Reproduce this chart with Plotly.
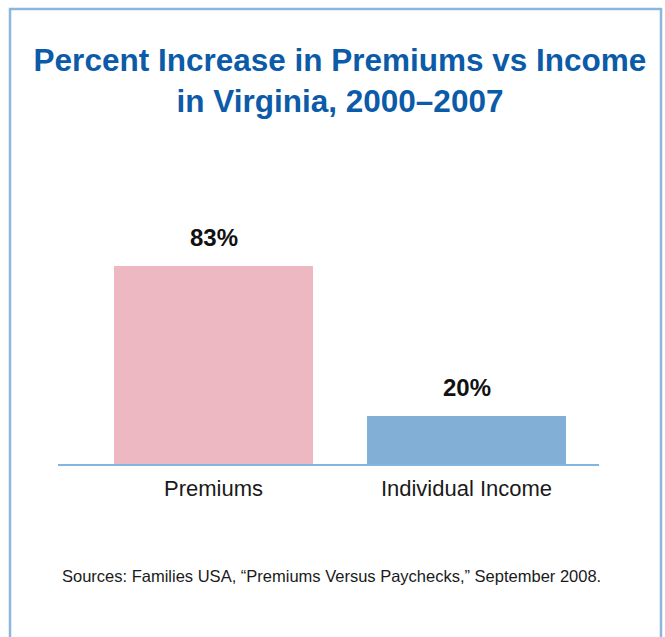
import plotly.graph_objects as go

categories = ["Premiums", "Individual Income"]
values = [83, 20]
value_labels = ["83%", "20%"]
bar_colors = ["#eeb8c3", "#82afd6"]

title_text = "Percent Increase in Premiums vs Income<br>in Virginia, 2000\u20132007"
source_text = "Sources: Families USA, \u201cPremiums Versus Paychecks,\u201d September 2008."

W, H = 665, 637
ML, MR, MT, MB = 58, 66, 200, 173
plot_w = W - ML - MR
plot_h = H - MT - MB

def px_to_paper_x(px):
    return (px - ML) / plot_w

def px_to_paper_y(py):
    return (H - MB - py) / plot_h

FONT = "Liberation Sans, Arial, sans-serif"

fig = go.Figure()
fig.add_trace(go.Bar(
    x=categories,
    y=values,
    marker=dict(color=bar_colors, line=dict(width=0)),
    width=0.7866,
    hoverinfo="skip",
))

for c, v, t in zip(categories, values, value_labels):
    fig.add_annotation(
        x=c, y=v, text="<b>%s</b>" % t, showarrow=False,
        yanchor="bottom", yshift=13,
        font=dict(family=FONT, size=24, color="#111111"),
    )

fig.add_annotation(
    xref="paper", yref="paper",
    x=px_to_paper_x(331), y=px_to_paper_y(576),
    xanchor="center", yanchor="middle",
    text=source_text, showarrow=False,
    font=dict(family=FONT, size=16.5, color="#1a1a1a"),
)

fig.add_shape(
    type="rect", xref="paper", yref="paper",
    x0=px_to_paper_x(10), x1=px_to_paper_x(661),
    y0=px_to_paper_y(660), y1=px_to_paper_y(9),
    line=dict(color="#8bb7dd", width=2.5),
    fillcolor="rgba(0,0,0,0)", layer="below",
)

fig.update_layout(
    width=W, height=H,
    margin=dict(l=ML, r=MR, t=MT, b=MB),
    paper_bgcolor="white", plot_bgcolor="white",
    showlegend=False,
    title=dict(
        text="<b>%s</b>" % title_text,
        x=340 / W, xref="container", xanchor="center",
        y=1 - 71 / H, yref="container", yanchor="top",
        font=dict(family=FONT, size=31.5, color="#0b5ba8"),
    ),
    xaxis=dict(
        range=[-0.6146, 1.5237],
        showline=True, linecolor="#85b4dc", linewidth=2,
        showgrid=False, zeroline=False, ticks="",
        tickfont=dict(family=FONT, size=22, color="#1a1a1a"),
        ticklabelstandoff=4,
        fixedrange=True,
    ),
    yaxis=dict(
        range=[0, plot_h / (198.3 / 83)],
        visible=False, showgrid=False, zeroline=False, fixedrange=True,
    ),
    bargap=0,
)

fig.write_html(
    "out.html",
    config={"displayModeBar": False},
    post_script="document.body.style.margin='0';document.body.style.overflow='hidden';",
)
